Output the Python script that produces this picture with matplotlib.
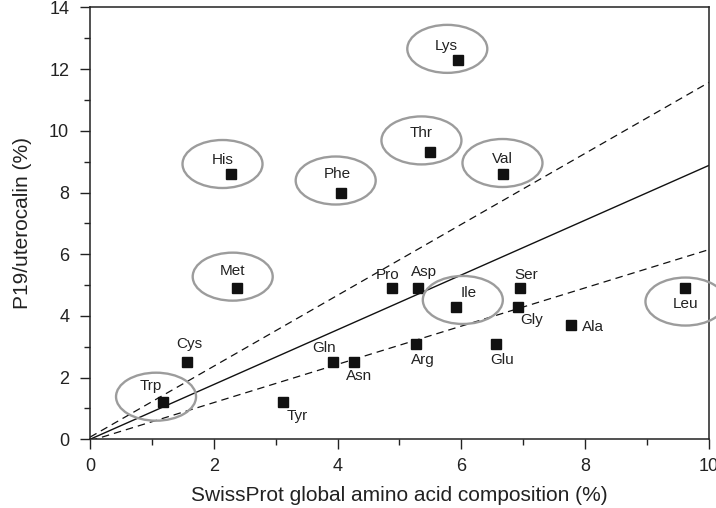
import matplotlib
matplotlib.use('Agg')
import matplotlib.pyplot as plt
from matplotlib.patches import Ellipse
from matplotlib.ticker import MultipleLocator

plt.rcParams['font.family'] = ['Liberation Sans', 'DejaVu Sans']

# amino acids: SwissProt composition (x) vs P19/uterocalin composition (y)
names = ['Lys', 'Thr', 'Val', 'His', 'Phe', 'Met', 'Cys', 'Trp', 'Tyr', 'Gln',
         'Asn', 'Pro', 'Asp', 'Ile', 'Ser', 'Gly', 'Ala', 'Arg', 'Glu', 'Leu']
swissprot = [5.95, 5.50, 6.68, 2.27, 4.05, 2.37, 1.57, 1.18, 3.11, 3.92,
             4.26, 4.88, 5.30, 5.91, 6.95, 6.91, 7.77, 5.26, 6.56, 9.62]
p19 = [12.3, 9.3, 8.6, 8.6, 8.0, 4.9, 2.5, 1.2, 1.2, 2.5,
       2.5, 4.9, 4.9, 4.3, 4.9, 4.3, 3.7, 3.1, 3.1, 4.9]

# highlighted residues
circled = ['Lys', 'Thr', 'Val', 'His', 'Phe', 'Met', 'Trp', 'Ile', 'Leu']

# reference lines (x range, fit and bounds)
line_x = [0, 10]
fit_y = [0, 8.88]
upper_y = [0.07, 11.57]
lower_y = [-0.05, 6.15]

# label offsets in pixels (dx, dy)
label_off = {'Lys': (-12, 14), 'Thr': (-9, 19), 'Val': (-1, 15), 'His': (-8, 14),
             'Phe': (-3, 19), 'Met': (-4, 17), 'Cys': (2, 18), 'Trp': (-12, 16),
             'Tyr': (15, -14), 'Gln': (-9, 14), 'Asn': (5, -14), 'Pro': (-5, 13),
             'Asp': (6, 16), 'Ile': (13, 14), 'Ser': (6, 13), 'Gly': (14, -13),
             'Ala': (22, -2), 'Arg': (7, -16), 'Glu': (6, -16), 'Leu': (0, -16)}
# ellipse centre offsets in pixels (dx, dy)
ell_off = {'Lys': (-11, 11), 'Thr': (-9, 12), 'Val': (-1, 11), 'His': (-8, 10),
           'Phe': (-5, 12), 'Met': (-4, 11.5), 'Trp': (-7, 5.6), 'Ile': (7, 6.7),
           'Leu': (0, -13.4)}

fig = plt.figure(figsize=(7.16, 5.08), dpi=100)
ax = fig.add_axes([0.1257, 0.1352, 0.8645, 0.8502])

ax.plot(line_x, fit_y, color='#111111', lw=1.0)
ax.plot(line_x, upper_y, color='#111111', lw=0.9, dashes=(6, 4))
ax.plot(line_x, lower_y, color='#111111', lw=0.9, dashes=(6, 4))

ax.plot(swissprot, p19, 's', color='#111111', ms=7, ls='none', zorder=3)

ax.set_xlim(0, 10)
ax.set_ylim(0, 14)

# pixel -> data scale
sx = 10 / (0.8645 * 716)
sy = 14 / (0.8502 * 508)

for n, x, y in zip(names, swissprot, p19):
    dx, dy = label_off[n]
    ax.annotate(n, (x, y), xytext=(dx, dy), textcoords='offset pixels',
                ha='center', va='center', fontsize=11, color='#222222')
    if n in circled:
        ex, ey = ell_off[n]
        e = Ellipse((x + ex * sx, y + ey * sy), 80 * sx, 48 * sy,
                    fill=False, edgecolor='#9c9c9c', lw=1.7, clip_on=False, zorder=4)
        ax.add_patch(e)

ax.xaxis.set_major_locator(MultipleLocator(2))
ax.xaxis.set_minor_locator(MultipleLocator(1))
ax.yaxis.set_major_locator(MultipleLocator(2))
ax.yaxis.set_minor_locator(MultipleLocator(1))
ax.tick_params(which='major', direction='out', length=7, width=1, labelsize=13, colors='#222222')
ax.tick_params(axis='x', which='major', pad=6.5)
ax.tick_params(axis='y', which='major', pad=8)
ax.tick_params(which='minor', direction='out', length=4, width=1, colors='#222222')
for s in ax.spines.values():
    s.set_linewidth(1.1)
    s.set_color('#222222')

ax.set_xlabel('SwissProt global amino acid composition (%)', fontsize=15, color='#222222', labelpad=8)
ax.set_ylabel('P19/uterocalin (%)', fontsize=15, color='#222222', labelpad=12)

fig.savefig('out.png', dpi=100)
